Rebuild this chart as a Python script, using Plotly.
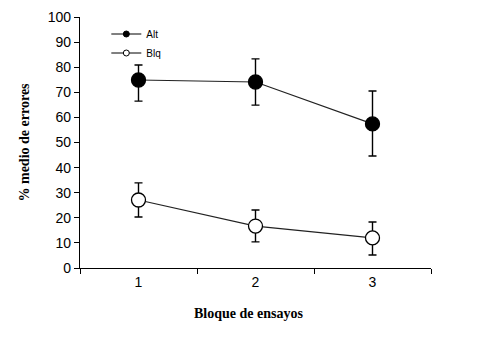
import plotly.graph_objects as go

bloques = [1, 2, 3]
tick_labels = ["1", "2", "3"]
alt_mean = [74.9, 74.1, 57.4]
alt_err_plus = [6.0, 9.2, 13.1]
alt_err_minus = [8.4, 9.2, 12.8]
blq_mean = [27.1, 16.7, 12.0]
blq_err_plus = [6.8, 6.4, 6.3]
blq_err_minus = [6.8, 6.3, 6.8]

fig = go.Figure()

def add_series(y, ep, em, filled):
    fig.add_trace(go.Scatter(
        x=bloques, y=y, mode="lines+markers", showlegend=False,
        line=dict(color="#222222", width=1.2),
        marker=dict(size=14, color="black" if filled else "white",
                    line=dict(color="black", width=1.3)),
        error_y=dict(type="data", symmetric=False, array=ep, arrayminus=em,
                     color="black", thickness=1.4, width=4),
    ))

add_series(alt_mean, alt_err_plus, alt_err_minus, True)
add_series(blq_mean, blq_err_plus, blq_err_minus, False)

# legend entries
for name, filled in [("Alt", True), ("Blq", False)]:
    fig.add_trace(go.Scatter(
        x=[None], y=[None], mode="lines+markers", name=name,
        line=dict(color="black", width=1),
        marker=dict(size=6, color="black" if filled else "white",
                    line=dict(color="black", width=1)),
    ))

# hidden trace on xaxis2 for category labels
fig.add_trace(go.Scatter(x=bloques, y=[None]*3, xaxis="x2", showlegend=False,
                         hoverinfo="skip"))

fig.update_layout(
    width=479, height=343,
    margin=dict(l=72, r=56, t=9, b=83, autoexpand=False),
    paper_bgcolor="white", plot_bgcolor="white",
    font=dict(family="Liberation Sans", color="black"),
    xaxis=dict(range=[0.5, 3.5], tickvals=[0.5, 1.5, 2.5, 3.5],
               ticktext=["", "", "", ""], ticks="outside", ticklen=5,
               tickcolor="black", showline=True, linecolor="black",
               linewidth=1.3, showgrid=False, zeroline=False, automargin=False),
    xaxis2=dict(range=[0.5, 3.5], overlaying="x", side="bottom",
                tickvals=bloques, ticktext=tick_labels, ticks="",
                showline=False, showgrid=False, zeroline=False, automargin=False,
                tickfont=dict(size=14, family="Liberation Sans"),
                ticklabelstandoff=4),
    yaxis=dict(range=[0, 100], tickvals=list(range(0, 101, 10)),
               ticks="outside", ticklen=5, tickcolor="black",
               showline=True, linecolor="black", linewidth=1.3,
               showgrid=False, zeroline=False, automargin=False,
               tickfont=dict(size=14, family="Liberation Sans"),
               title=dict(text="<b>% medio de errores</b>",
                          font=dict(family="Liberation Serif", size=14),
                          standoff=14)),
    legend=dict(x=0.075, y=0.99, xanchor="left", yanchor="top",
                font=dict(size=10, family="Liberation Sans"),
                bgcolor="rgba(0,0,0,0)", itemwidth=30, tracegroupgap=0),
    annotations=[dict(text="<b>Bloque de ensayos</b>", xref="paper", yref="paper",
                      x=0.48, y=0, yshift=-45, xanchor="center", yanchor="middle",
                      showarrow=False,
                      font=dict(family="Liberation Serif", size=14))],
)

fig.write_html("out.html")
